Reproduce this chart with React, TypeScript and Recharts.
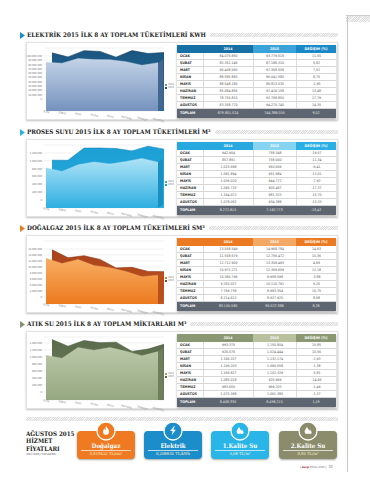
import React from 'react';
import { AreaChart, Area, XAxis, YAxis, CartesianGrid } from 'recharts';

const MONTHS = ['OCAK', 'ŞUBAT', 'MART', 'NİSAN', 'MAYIS', 'HAZİRAN', 'TEMMUZ', 'AĞUSTOS'];
const YEARS = ['2014', '2015'];

const ELEC_2014 = [84076860, 82352146, 90408560, 88585860, 88548180, 85084856, 78755810, 83358770];
const ELEC_2015 = [93779518, 87188310, 97358508, 96041580, 86813535, 97416158, 92768850, 94270740];
const ELEC_CHANGE = ['11,55', '5,82', '7,52', '8,75', '-1,95', '13,48', '17,79', '14,35'];
const ELEC_TOTAL = [679801524, 744388055];
const ELEC_TOTAL_CHANGE = '9,52';
const ELEC_TICKS = [0, 10000000, 20000000, 30000000, 40000000, 50000000, 60000000, 70000000, 80000000, 90000000, 100000000];

const PROSES_2014 = [942904, 857891, 1015698, 1081894, 1036020, 1095733, 1164072, 1078062];
const PROSES_2015 = [758348, 758000, 950609, 951984, 944772, 905467, 981323, 934388];
const PROSES_CHANGE = ['-19,57', '-11,34', '-6,41', '-12,01', '-7,92', '-17,37', '-15,70', '-13,33'];
const PROSES_TOTAL = [8272615, 7162773];
const PROSES_TOTAL_CHANGE = '-13,42';
const PROSES_TICKS = [0, 200000, 400000, 600000, 800000, 1000000, 1200000];

const DOGAL_2014 = [13058549, 11558679, 12712900, 10972271, 10360796, 9255027, 7769739, 8214613];
const DOGAL_2015 = [14968784, 12756472, 13309493, 12309659, 9958598, 10110791, 8993354, 8927925];
const DOGAL_CHANGE = ['14,63', '10,36', '4,69', '12,18', '-3,88', '9,25', '15,75', '8,68'];
const DOGAL_TOTAL = [83155560, 90022386];
const DOGAL_TOTAL_CHANGE = '8,26';
const DOGAL_TICKS = [0, 2000000, 4000000, 6000000, 8000000, 10000000, 12000000, 14000000, 16000000];

const ATIK_2014 = [993375, 926576, 1166327, 1106203, 1166827, 1085018, 983655, 1075368];
const ATIK_2015 = [1150804, 1024444, 1132174, 1090558, 1102329, 925969, 969203, 1061380];
const ATIK_CHANGE = ['15,85', '10,56', '-2,93', '-1,38', '-5,81', '-14,66', '-1,49', '-1,37'];
const ATIK_TOTAL = [8408330, 8496215];
const ATIK_TOTAL_CHANGE = '1,19';
const ATIK_TICKS = [0, 200000, 400000, 600000, 800000, 1000000, 1200000, 1400000];

const PRICE_NAMES = ['Doğalgaz', 'Elektrik', '1.Kalite Su', '2.Kalite Su'];
const PRICE_VALUES = ['0,819422 TL/sm³', '0,206632 TL/kWh', '5,06 TL/m³', '0,95 TL/m³'];

const fmt = (n: number) => String(Math.round(n)).replace(/\B(?=(\d{3})+(?!\d))/g, '.');

const SERIF = '"DejaVu Serif Condensed", "DejaVu Serif", serif';
const SANS = '"DejaVu Sans Condensed", "Liberation Sans", sans-serif';

const SECTIONS = [
  {
    key: 'elec', title: 'ELEKTRİK 2015 İLK 8 AY TOPLAM TÜKETİMLERİ KWH', top: 35,
    v14: ELEC_2014, v15: ELEC_2015, ch: ELEC_CHANGE, tot: ELEC_TOTAL, totCh: ELEC_TOTAL_CHANGE, ticks: ELEC_TICKS,
    marker: '#1a8fcf', h14: '#1670a6', h15: '#3aa3d9', hCh: '#1b88c8',
    back: ['#1b5682', '#2d6d9b'], backStroke: '#143f62', front: ['#c3d3e7', '#7592be'], side: '#44678f',
    tickPad: [8, 12], backDomain: 100000000, backPad: 1, frontDomain: 100000000, frontPad: 5,
  },
  {
    key: 'proses', title: 'PROSES SUYU 2015 İLK 8 AY TOPLAM TÜKETİMLERİ M³', top: 132,
    v14: PROSES_2014, v15: PROSES_2015, ch: PROSES_CHANGE, tot: PROSES_TOTAL, totCh: PROSES_TOTAL_CHANGE, ticks: PROSES_TICKS,
    marker: '#29b3e6', h14: '#27a8de', h15: '#86d4f1', hCh: '#2bb0e6',
    back: ['#1c9fd4', '#2bacde'], backStroke: '#1285b8', front: ['#aee3f6', '#2eaee2'], side: '#1a8fc2',
    tickPad: [8, 8], backDomain: 1000000, backPad: 0, frontDomain: 1200000, frontPad: 12,
  },
  {
    key: 'dogal', title: 'DOĞALGAZ  2015 İLK 8 AY TOPLAM TÜKETİMLERİ SM³', top: 228,
    v14: DOGAL_2014, v15: DOGAL_2015, ch: DOGAL_CHANGE, tot: DOGAL_TOTAL, totCh: DOGAL_TOTAL_CHANGE, ticks: DOGAL_TICKS,
    marker: '#ec7a23', h14: '#ec7a23', h15: '#f4a865', hCh: '#ec7a23',
    back: ['#a8421a', '#c25723'], backStroke: '#8c3412', front: ['#f8ad62', '#ec7a1f'], side: '#b9501c',
    tickPad: [8, 7], backDomain: 16000000, backPad: 5, frontDomain: 16000000, frontPad: 7,
  },
  {
    key: 'atik', title: 'ATIK SU 2015 İLK 8 AY TOPLAM MİKTARLARI M³', top: 324,
    v14: ATIK_2014, v15: ATIK_2015, ch: ATIK_CHANGE, tot: ATIK_TOTAL, totCh: ATIK_TOTAL_CHANGE, ticks: ATIK_TICKS,
    marker: '#8a8f78', h14: '#8b9873', h15: '#b8c09e', hCh: '#8b9873',
    back: ['#5a6c4b', '#6b7d5a'], backStroke: '#4b5b3e', front: ['#bac8a8', '#95a781'], side: '#6d7f5c',
    tickPad: [6, 8], backDomain: 1200000, backPad: 0, frontDomain: 1400000, frontPad: 0,
  },
];

const HATCH = 'repeating-linear-gradient(135deg, #d9d9d9 0px, #d9d9d9 0.7px, #f4f4f4 0.7px, #f4f4f4 1.6px)';

const CH_LEFT = 23;
const CH_W = 155;
const CH_H = 84;
const X_AXIS_H = 15;
const PLOT_BOTTOM = CH_H - X_AXIS_H;

const MonthTick = (props: any) => {
  const { x, y, payload, index } = props;
  const yy = y + 1.8 + index * 1.15;
  return (
    <text x={x} y={yy} fontSize={2.7} fill="#888" textAnchor="middle" fontFamily={SANS}
      transform={`rotate(14 ${x} ${yy})`}>{payload.value}</text>
  );
};

function SectionChart({ s }: { s: any }) {
  const rows = MONTHS.map((m, i) => ({ m, y2014: s.v14[i], y2015: s.v15[i] }));
  const last = MONTHS.length - 1;
  const maxTick = s.ticks[s.ticks.length - 1];
  const sideDot = (p: any) => {
    if (p.index !== last) return <g key={`d${p.index}`} />;
    const { cx, cy } = p;
    const pts = `${cx},${cy} ${cx + 5},${cy - 3.5} ${cx + 5},${PLOT_BOTTOM - 3.5} ${cx},${PLOT_BOTTOM}`;
    return <polygon key={`d${p.index}`} points={pts} fill={s.side} />;
  };
  return (
    <AreaChart width={CH_W} height={CH_H} data={rows} margin={{ top: 6, right: 14, bottom: 0, left: 0 }}>
      <defs>
        <linearGradient id={`bk-${s.key}`} x1="0" y1="0" x2="0" y2="1">
          <stop offset="0%" stopColor={s.back[0]} />
          <stop offset="100%" stopColor={s.back[1]} />
        </linearGradient>
        <linearGradient id={`fr-${s.key}`} x1="0" y1="0" x2="0" y2="1">
          <stop offset="0%" stopColor={s.front[0]} />
          <stop offset="100%" stopColor={s.front[1]} />
        </linearGradient>
      </defs>
      <CartesianGrid xAxisId="front" yAxisId="ticks" vertical={false} stroke="#e3e3e3" strokeWidth={0.5} />
      <XAxis xAxisId="front" dataKey="m" height={X_AXIS_H} interval={0} axisLine={false} tickLine={false}
        tickSize={0} tickMargin={0}
        padding={{ left: 2, right: 6 }} tick={(p: any) => <MonthTick {...p} />} />
      <XAxis xAxisId="back" dataKey="m" hide orientation="top" padding={{ left: 8, right: 0 }} />
      <YAxis yAxisId="ticks" width={21} type="number" domain={[0, maxTick]} ticks={s.ticks} interval={0}
        axisLine={false} tickLine={false} tickSize={1} tickMargin={1} tickFormatter={fmt}
        tick={{ fontSize: 2.7, fill: '#6f6f6f', fontFamily: SANS }}
        padding={{ top: s.tickPad[0], bottom: s.tickPad[1] }} />
      <YAxis yAxisId="back" hide orientation="right" type="number" domain={[0, s.backDomain]} padding={{ top: s.backPad, bottom: 0 }} />
      <YAxis yAxisId="front" hide orientation="right" type="number" domain={[0, s.frontDomain]} padding={{ top: s.frontPad, bottom: 0 }} />
      <Area xAxisId="front" yAxisId="ticks" dataKey="y2014" type="linear" fill="none" stroke="none"
        legendType="none" dot={false} activeDot={false} isAnimationActive={false} />
      <Area xAxisId="back" yAxisId="back" dataKey="y2015" name={YEARS[1]} type="linear"
        fill={`url(#bk-${s.key})`} fillOpacity={1} stroke={s.backStroke} strokeWidth={0.6}
        dot={false} activeDot={false} isAnimationActive={false} />
      <Area xAxisId="front" yAxisId="front" dataKey="y2014" name={YEARS[0]} type="linear"
        fill={`url(#fr-${s.key})`} fillOpacity={1} stroke={s.front[0]} strokeWidth={0.4}
        dot={sideDot} activeDot={false} isAnimationActive={false} />
    </AreaChart>
  );
}

function SectionTable({ s, top }: { s: any; top: number }) {
  const widths = [26, 50, 43, 40];
  const cell = (w: number, extra: any = {}) => ({
    width: w, boxSizing: 'border-box' as const, textAlign: 'center' as const, overflow: 'hidden', whiteSpace: 'nowrap' as const, ...extra,
  });
  return (
    <div style={{ position: 'absolute', left: 177, top, width: 159, fontFamily: SANS, boxShadow: '0 1px 2px rgba(0,0,0,0.35)', background: '#fff' }}>
      <div style={{ display: 'flex', height: 8, lineHeight: '8px', fontSize: 3.6, fontWeight: 700, color: '#fff' }}>
        <div style={cell(widths[0], { background: s.h14 })} />
        <div style={cell(widths[1], { background: s.h14 })}>{YEARS[0]}</div>
        <div style={cell(widths[2], { background: s.h15 })}>{YEARS[1]}</div>
        <div style={cell(widths[3], { background: s.hCh })}>DEĞİŞİM (%)</div>
      </div>
      {MONTHS.map((m, i) => (
        <div key={m} style={{ display: 'flex', height: 7, lineHeight: '6.5px', fontSize: 3.5, color: '#555', borderBottom: '0.5px solid #d6d6d6', boxSizing: 'border-box' }}>
          <div style={cell(widths[0], { textAlign: 'left', paddingLeft: 3, fontWeight: 700, color: '#333' })}>{m}</div>
          <div style={cell(widths[1], { borderLeft: '0.5px solid #dcdcdc' })}>{fmt(s.v14[i])}</div>
          <div style={cell(widths[2], { borderLeft: '0.5px solid #dcdcdc' })}>{fmt(s.v15[i])}</div>
          <div style={cell(widths[3], { borderLeft: '0.5px solid #dcdcdc' })}>{s.ch[i]}</div>
        </div>
      ))}
      <div style={{ display: 'flex', height: 9, lineHeight: '9px', fontSize: 3.6, color: '#e6e6e6', background: '#5d6670' }}>
        <div style={cell(widths[0], { textAlign: 'left', paddingLeft: 3, fontWeight: 700, color: '#fff' })}>TOPLAM</div>
        <div style={cell(widths[1])}>{fmt(s.tot[0])}</div>
        <div style={cell(widths[2])}>{fmt(s.tot[1])}</div>
        <div style={cell(widths[3])}>{s.totCh}</div>
      </div>
    </div>
  );
}

function Section({ s }: { s: any }) {
  const P = s.top + 7;
  return (
    <>
      <div style={{ position: 'absolute', left: 20, top: s.top - 4, width: 318, height: 8, display: 'flex', alignItems: 'center' }}>
        <svg width={5} height={7} style={{ flex: 'none' }}>
          <polygon points="0,0 5,3.5 0,7" fill={s.marker} />
        </svg>
        <div style={{ flex: 'none', marginLeft: 2, fontFamily: SERIF, fontWeight: 700, fontSize: 6.3, color: '#222', whiteSpace: 'nowrap', lineHeight: '8px' }}>{s.title}</div>
        <div style={{ flex: 1, marginLeft: 4, height: 4, background: HATCH }} />
      </div>
      <div style={{ position: 'absolute', left: 26, top: P, width: 312, height: 78, background: '#fff', border: '0.5px solid #e2e2e2', boxShadow: '0 1px 2px rgba(0,0,0,0.25)', boxSizing: 'border-box' }} />
      <div style={{ position: 'absolute', left: CH_LEFT, top: P, width: CH_W, height: CH_H }}>
        <SectionChart s={s} />
      </div>
      <div style={{ position: 'absolute', left: 165, top: P + 41, fontFamily: SANS, fontSize: 2.6, color: '#777', lineHeight: '3.4px' }}>
        <div style={{ display: 'flex', alignItems: 'center' }}>
          <span style={{ display: 'inline-block', width: 2, height: 2, background: s.front[1], marginRight: 1 }} />{YEARS[0]}
        </div>
        <div style={{ display: 'flex', alignItems: 'center' }}>
          <span style={{ display: 'inline-block', width: 2, height: 2, background: s.back[0], marginRight: 1 }} />{YEARS[1]}
        </div>
      </div>
      <SectionTable s={s} top={P + 3} />
    </>
  );
}

const BOXES = [
  { x: 77, color: '#f07a22', icon: 'flame' },
  { x: 144, color: '#1b8dcb', icon: 'bolt' },
  { x: 211, color: '#29b5e7', icon: 'drop' },
  { x: 279, color: '#8a8c6c', icon: 'drop' },
];

function Icon({ kind }: { kind: string }) {
  if (kind === 'flame')
    return <path d="M5 0.5 C6.3 2.5 8 3.8 8 6.3 A3 3 0 0 1 2 6.3 C2 4.8 2.8 3.8 3.4 3 C3.7 4.3 4.4 4.6 4.8 4.6 C4.6 3.3 4.4 2 5 0.5Z" fill="#fff" />;
  if (kind === 'bolt')
    return <polygon points="6.2,0.5 2.2,5.6 4.7,5.6 3.6,9.8 7.8,4.2 5.3,4.2 6.8,0.5" fill="#fff" />;
  return (
    <g fill="#fff">
      <path d="M4 1.5 C5.4 3.6 6.4 4.9 6.4 6.2 A2.4 2.4 0 0 1 1.6 6.2 C1.6 4.9 2.6 3.6 4 1.5Z" />
      <path d="M7 4 C7.9 5.3 8.6 6.1 8.6 7 A1.6 1.6 0 0 1 5.4 7 C5.4 6.1 6.1 5.3 7 4Z" />
    </g>
  );
}

export default function App() {
  return (
    <div style={{ position: 'absolute', left: 0, top: 0, width: 370, height: 480, background: '#fff', overflow: 'hidden' }}>
      <div style={{ position: 'absolute', left: 346, top: 15, width: 24, height: 6, background: HATCH, borderTop: '0.5px solid #ccc' }} />
      <div style={{ position: 'absolute', left: 346.5, top: 15, width: 0.6, height: 457, background: '#c8c8c8' }} />

      {SECTIONS.map((s) => <Section key={s.key} s={s} />)}

      <div style={{ position: 'absolute', left: 26, top: 417, width: 312, height: 4, background: HATCH }} />

      <div style={{ position: 'absolute', left: 26, top: 430, fontFamily: SERIF, fontWeight: 700, fontSize: 6.2, lineHeight: '7.4px', color: '#222' }}>
        <div>AĞUSTOS 2015</div>
        <div>HİZMET</div>
        <div>FİYATLARI</div>
        <div style={{ fontFamily: SANS, fontWeight: 400, fontSize: 2.6, lineHeight: '5px', color: '#555' }}>(KDV HARİÇ FİYATLARDIR)</div>
      </div>

      {BOXES.map((b, i) => (
        <div key={i}>
          <div style={{ position: 'absolute', left: b.x, top: 431, width: 58, height: 28, background: b.color, borderRadius: 4, boxShadow: '0 1px 2px rgba(0,0,0,0.35)' }}>
            <div style={{ position: 'absolute', left: 0, width: 58, top: 11, textAlign: 'center', fontFamily: SERIF, fontWeight: 700, fontSize: 6.2, color: '#fff', lineHeight: '7px' }}>{PRICE_NAMES[i]}</div>
            <div style={{ position: 'absolute', left: 4, width: 50, top: 18.5, height: 0.5, background: 'rgba(255,255,255,0.7)' }} />
            <div style={{ position: 'absolute', left: 0, width: 58, top: 20, textAlign: 'center', fontFamily: SERIF, fontSize: 4.2, color: '#fff2c8', lineHeight: '6px' }}>{PRICE_VALUES[i]}</div>
          </div>
          <svg style={{ position: 'absolute', left: b.x + 29 - 10, top: 421 }} width={20} height={20}>
            <circle cx={10} cy={10} r={9} fill={b.color} stroke="#fff" strokeWidth={1.3} />
            <g transform="translate(5 4.5)"><Icon kind={b.icon} /></g>
          </svg>
        </div>
      ))}

      <div style={{ position: 'absolute', left: 300, top: 464, fontFamily: SANS, fontSize: 2.8, color: '#666', whiteSpace: 'nowrap', lineHeight: '6px' }}>
        <span style={{ color: '#333' }}>| </span><span style={{ color: '#a3203a', fontWeight: 700 }}>dergi</span> EYLÜL 2015 <span style={{ color: '#333' }}>|</span>
        <span style={{ fontSize: 4, marginLeft: 2 }}>31</span>
      </div>
    </div>
  );
}
